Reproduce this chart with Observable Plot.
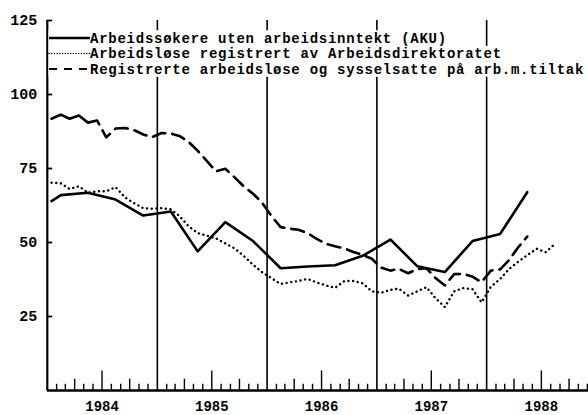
<!DOCTYPE html>
<html><head><meta charset="utf-8">
<script src="https://cdn.jsdelivr.net/npm/d3@7"></script>
<script src="https://cdn.jsdelivr.net/npm/@observablehq/plot@0.6"></script>
<style>body{margin:0;background:#fff}#chart svg{display:block}</style>
</head><body><div id="chart"></div>
<script>
const years = ["1984", "1985", "1986", "1987", "1988"];
const yTicks = [25, 50, 75, 100, 125];
const legendLabels = [
  "Arbeidssøkere uten arbeidsinntekt (AKU)",
  "Arbeidsløse registrert av Arbeidsdirektoratet",
  "Registrerte arbeidsløse og sysselsatte på arb.m.tiltak"
];

// AKU (quarterly, plotted mid-quarter)
const akuMonths = ["1984-01","1984-02","1984-05","1984-08","1984-11","1985-02","1985-05","1985-08","1985-11",
  "1986-02","1986-05","1986-08","1986-11","1987-02","1987-05","1987-08","1987-11","1988-02","1988-05"];
const akuValues = [64, 66, 66.8, 64.5, 59.1, 60.5, 47, 56.9, 50.5,
  41.3, 41.9, 42.3, 45.5, 51, 42, 40, 50.5, 52.9, 67];

// Registered unemployed, monthly from 1984-01
const regStart = "1984-01";
const regValues = [70.2, 70, 68.1, 69, 66.8, 67.3, 67.3, 68.7, 65.3, 63.3, 61.6, 61.4,
  61.6, 61.2, 59, 55.5, 53.2, 52.3, 51.4, 49.7, 48, 45.5, 42.5, 40,
  38, 36, 36.5, 37, 37.7, 36.5, 35.5, 34.7, 37, 37, 36.2, 33.5,
  33, 34, 34.4, 32.1, 33.5, 34.9, 31.2, 28.2, 33.5, 34.6, 34.2, 29.8,
  35, 37.7, 41, 43.5, 45.7, 47.9, 46.7, 49.5];

// Registered unemployed + on labour market schemes, monthly from 1984-01
const tilStart = "1984-01";
const tilValues = [91.8, 93.2, 91.8, 92.9, 90.5, 91.2, 85.5, 88.5, 88.7, 88, 86.5, 85.6,
  87, 86.8, 86, 84, 81, 77.5, 74, 74.9, 72, 69, 66.5, 63.5,
  59, 55.2, 54.7, 54.3, 53.2, 51.2, 49.6, 48.7, 48, 46.8, 45.8, 44.5,
  41.5, 40.5, 41.1, 39.6, 41, 41.3, 38, 35.5, 39.3, 39.4, 38.5, 36.6,
  40.5, 40.9, 44, 48.4, 52];

const mid = s => { const [y, m] = s.split("-").map(Number); return new Date(Date.UTC(y, m - 1, 15)); };
const monthly = (start, vals) => vals.map((v, i) => {
  const d0 = mid(start); return {date: new Date(Date.UTC(d0.getUTCFullYear(), d0.getUTCMonth() + i, 15)), value: v};
});
const aku = akuMonths.map((m, i) => ({date: mid(m), value: akuValues[i]}));
const reg = monthly(regStart, regValues);
const til = monthly(tilStart, tilValues);

const t0 = new Date(Date.UTC(+years[0], 0, 1));
const t1 = new Date(Date.UTC(+years[years.length - 1] + 1, 0, 1));
const yearStarts = years.map(y => new Date(Date.UTC(+y, 0, 1)));
const months = d3.utcMonth.range(t0, t1).filter(d => d.getUTCMonth() !== 0);
const tickLen = d => { const m = d.getUTCMonth(); return m === 6 ? 6.6 : (m === 3 || m === 9) ? 3.8 : 2.1; };

const FONT = "Liberation Mono";
const dashArr = "55,7," + Array(80).fill("13,7").join(",");

const chart = Plot.plot({
  width: 588, height: 415,
  marginLeft: 47, marginRight: 0, marginTop: 20, marginBottom: 25,
  x: {type: "utc", domain: [t0, t1], range: [46.8, 596.2], axis: null},
  y: {domain: [0, 125], range: [390, 20], axis: null},
  style: {background: "white", fontFamily: FONT},
  marks: [
    Plot.ruleX(yearStarts.slice(1), {y1: 0, y2: 125, stroke: "#000", strokeWidth: 1.6}),
    Plot.ruleX(months, {x: d => d, y1: 0, y2: tickLen, stroke: "#000", strokeWidth: 1.4}),
    Plot.ruleY(yTicks, {y: d => d, x1: t0, x2: d3.utcDay.offset(t0, 18), stroke: "#000", strokeWidth: 1.8}),
    Plot.ruleX([t0], {y1: 0, y2: 125, stroke: "#000", strokeWidth: 2.2}),
    Plot.ruleY([0], {x1: t0, x2: t1, stroke: "#000", strokeWidth: 2.4}),
    Plot.text(yTicks, {x: t0, y: d => d, text: d => String(d), dx: -10, textAnchor: "end",
      fontSize: 15, fontWeight: "bold", fontFamily: FONT, fill: "#000"}),
    Plot.text(years, {x: d => new Date(Date.UTC(+d, 6, 1)), y: 0, dy: 16, text: d => d,
      fontSize: 14, fontWeight: "bold", fontFamily: FONT, fill: "#000"}),
    Plot.line(reg, {x: "date", y: "value", stroke: "#000", strokeWidth: 2.4,
      strokeDasharray: "0.1,4.6", strokeLinecap: "round"}),
    Plot.line(til, {x: "date", y: "value", stroke: "#000", strokeWidth: 2.6,
      strokeDasharray: dashArr}),
    Plot.line(aku, {x: "date", y: "value", stroke: "#000", strokeWidth: 2.6, strokeLinejoin: "round"})
  ]
});
document.getElementById("chart").appendChild(chart);

// Legend inside the plot area (top-left)
const svg = d3.select(chart);
const rowY = [38, 53.5, 69];
const styles = [
  {dash: null, w: 2.4, x1: 49, x2: 90},
  {dash: "0.1,2.6", w: 1.4, x1: 49, x2: 90},
  {dash: "8,7", w: 2.2, x1: 49, x2: 97}
];
const g = svg.append("g").attr("text-anchor", "start");
const texts = legendLabels.map((lab, i) => g.append("text")
  .attr("x", 90).attr("y", rowY[i]).attr("dy", "0.35em").attr("text-anchor", "start")
  .attr("font-family", FONT).attr("font-size", 14).attr("font-weight", "bold")
  .attr("letter-spacing", 0.75).attr("fill", "#000").text(lab));
texts.forEach((t, i) => {
  const w = t.node().getComputedTextLength();
  g.insert("rect", ":first-child").attr("x", 48.5).attr("y", rowY[i] - 7.75)
    .attr("width", w + 44).attr("height", 15.5).attr("fill", "white");
});
styles.forEach((s, i) => {
  const l = g.append("line").attr("x1", s.x1).attr("x2", s.x2).attr("y1", rowY[i]).attr("y2", rowY[i])
    .attr("stroke", "#000").attr("stroke-width", s.w);
  if (s.dash) { l.attr("stroke-dasharray", s.dash); if (i === 1) l.attr("stroke-linecap", "round"); }
});
texts.forEach(t => t.raise());
</script></body></html>
